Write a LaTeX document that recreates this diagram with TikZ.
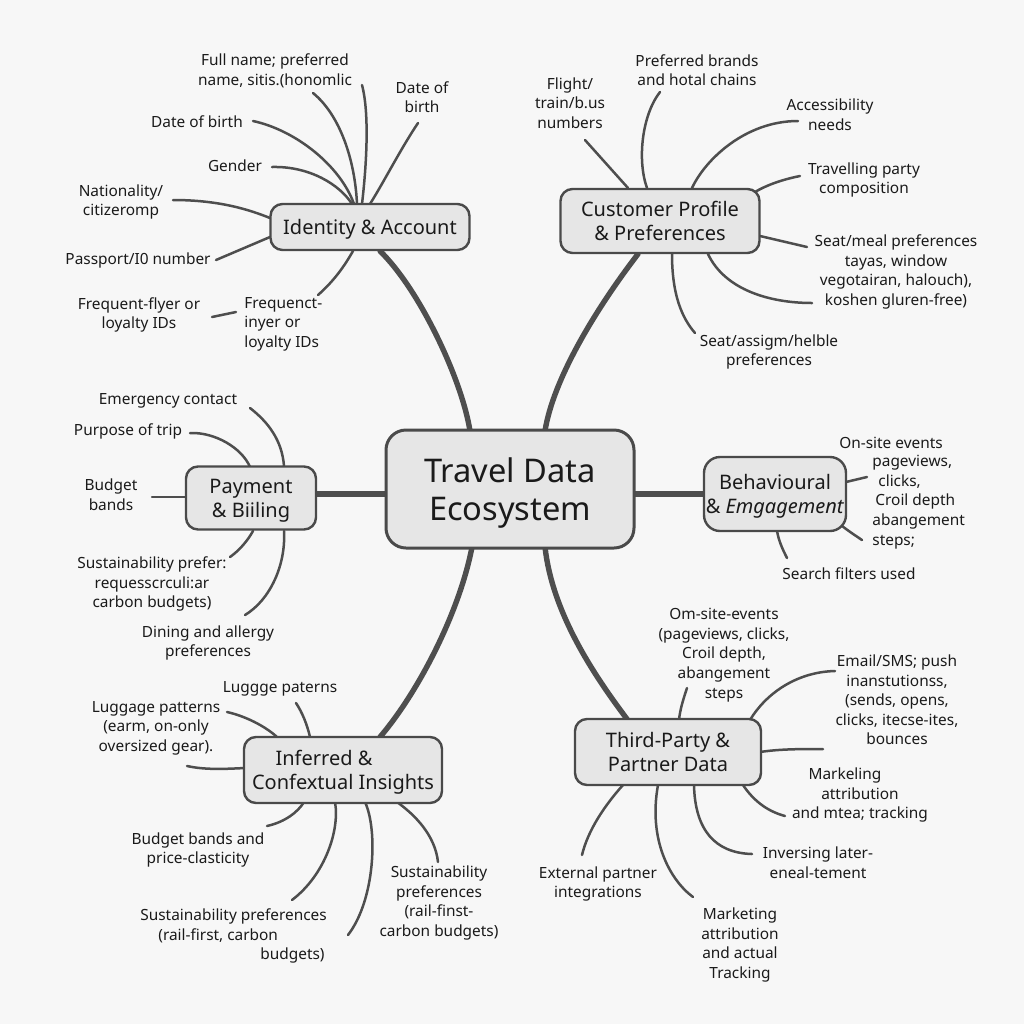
\documentclass[tikz,border=0pt]{standalone}
\usepackage{fontspec}
\setmainfont{Noto Sans}
\definecolor{bg}{HTML}{F7F7F7}
\definecolor{txt}{HTML}{1A1A1A}
\definecolor{conn}{HTML}{4E4E4E}
\definecolor{hubfill}{HTML}{E6E6E6}
\definecolor{hubdraw}{HTML}{4A4A4A}
\tikzset{
 lbl/.style={font=\fontsize{7.7}{9.8}\selectfont, text=txt, align=center, inner sep=0pt},
 hub/.style={draw=hubdraw, line width=1.2pt, fill=hubfill, rounded corners=6pt, text=txt, font=\fontsize{10}{12}\selectfont, align=center, inner sep=0pt, text depth=0pt},
 mainlink/.style={draw=conn, line width=2.7pt, line cap=round},
 leaf/.style={draw=conn, line width=1.25pt, line cap=round},
}
\begin{document}
\begin{tikzpicture}[x=0.5pt,y=-0.5pt]
\fill[bg] (0,0) rectangle (1024,1024);
\useasboundingbox (0,0) rectangle (1024,1024);

% ---------- connector end points ----------
% main links
\path (380,251) coordinate (m1a) (470,431) coordinate (m1b)
      (638,254) coordinate (m2a) (545,431) coordinate (m2b)
      (316,494) coordinate (m3a) (386,494) coordinate (m3b)
      (634,494) coordinate (m4a) (705,494) coordinate (m4b)
      (472,547) coordinate (m5a) (380,737) coordinate (m5b)
      (545,547) coordinate (m6a) (627,719) coordinate (m6b);
% identity
\path (313,93) coordinate (ia1) (357,204) coordinate (ib1)
      (362,85) coordinate (ia2) (362,204) coordinate (ib2)
      (418,123) coordinate (ia3) (370,204) coordinate (ib3)
      (253,121) coordinate (ia4) (354,204) coordinate (ib4)
      (272,167) coordinate (ia5) (352,204) coordinate (ib5)
      (173,200) coordinate (ia6) (270,218) coordinate (ib6)
      (216,260) coordinate (ia7) (270,237) coordinate (ib7)
      (212,317) coordinate (ia8) (236,312) coordinate (ib8)
      (318,295) coordinate (ia9) (353,251) coordinate (ib9);
% customer
\path (585,140) coordinate (ca1) (628,188) coordinate (cb1)
      (660,92) coordinate (ca2) (647,188) coordinate (cb2)
      (798,121) coordinate (ca3) (692,188) coordinate (cb3)
      (800,176) coordinate (ca4) (755,192) coordinate (cb4)
      (807,247) coordinate (ca5) (760,236) coordinate (cb5)
      (812,303) coordinate (ca6) (708,254) coordinate (cb6)
      (695,333) coordinate (ca7) (672,254) coordinate (cb7);
% payment
\path (250,408) coordinate (pa1) (284,466) coordinate (pb1)
      (190,433) coordinate (pa2) (250,467) coordinate (pb2)
      (152,497) coordinate (pa3) (186,497) coordinate (pb3)
      (230,557) coordinate (pa4) (253,531) coordinate (pb4)
      (245,615) coordinate (pa5) (284,531) coordinate (pb5);
% behavioural
\path (867,477) coordinate (ba1) (846,482) coordinate (bb1)
      (862,540) coordinate (ba2) (842,526) coordinate (bb2)
      (787,558) coordinate (ba3) (777,531) coordinate (bb3);
% inferred
\path (296,703) coordinate (na1) (310,737) coordinate (nb1)
      (227,712) coordinate (na2) (277,737) coordinate (nb2)
      (187,766) coordinate (na3) (245,768) coordinate (nb3)
      (267,826) coordinate (na4) (304,802) coordinate (nb4)
      (292,900) coordinate (na5) (335,802) coordinate (nb5)
      (348,935) coordinate (na6) (365,802) coordinate (nb6)
      (438,862) coordinate (na7) (397,802) coordinate (nb7);
% third party
\path (687,688) coordinate (ta1) (679,720) coordinate (tb1)
      (835,671) coordinate (ta2) (750,720) coordinate (tb2)
      (823,749) coordinate (ta3) (760,752) coordinate (tb3)
      (785,816) coordinate (ta4) (743,785) coordinate (tb4)
      (752,854) coordinate (ta5) (694,785) coordinate (tb5)
      (693,897) coordinate (ta6) (658,785) coordinate (tb6)
      (582,855) coordinate (ta7) (623,785) coordinate (tb7);

% ---------- main links ----------
\draw[mainlink] (m1a) .. controls (420,290) and (462,380) .. (m1b);
\draw[mainlink] (m2a) .. controls (595,310) and (553,380) .. (m2b);
\draw[mainlink] (m3a) -- (m3b);
\draw[mainlink] (m4a) -- (m4b);
\draw[mainlink] (m5a) .. controls (460,610) and (420,690) .. (m5b);
\draw[mainlink] (m6a) .. controls (552,610) and (590,670) .. (m6b);

% ---------- leaf links ----------
\draw[leaf] (ia1) .. controls (340,115) and (355,160) .. (ib1);
\draw[leaf] (ia2) .. controls (370,115) and (366,170) .. (ib2);
\draw[leaf] (ia3) .. controls (400,150) and (385,180) .. (ib3);
\draw[leaf] (ia4) .. controls (295,130) and (340,165) .. (ib4);
\draw[leaf] (ia5) .. controls (310,166) and (340,185) .. (ib5);
\draw[leaf] (ia6) .. controls (220,200) and (250,210) .. (ib6);
\draw[leaf] (ia7) -- (ib7);
\draw[leaf] (ia8) -- (ib8);
\draw[leaf] (ia9) .. controls (335,280) and (345,265) .. (ib9);

\draw[leaf] (ca1) -- (cb1);
\draw[leaf] (ca2) .. controls (642,115) and (637,160) .. (cb2);
\draw[leaf] (ca3) .. controls (745,121) and (705,160) .. (cb3);
\draw[leaf] (ca4) .. controls (780,180) and (765,186) .. (cb4);
\draw[leaf] (ca5) -- (cb5);
\draw[leaf] (ca6) .. controls (770,303) and (725,290) .. (cb6);
\draw[leaf] (ca7) .. controls (682,318) and (672,295) .. (cb7);

\draw[leaf] (pa1) .. controls (268,422) and (282,440) .. (pb1);
\draw[leaf] (pa2) .. controls (215,432) and (242,448) .. (pb2);
\draw[leaf] (pa3) -- (pb3);
\draw[leaf] (pa4) .. controls (240,550) and (248,540) .. (pb4);
\draw[leaf] (pa5) .. controls (270,600) and (286,565) .. (pb5);

\draw[leaf] (ba1) -- (bb1);
\draw[leaf] (ba2) .. controls (856,536) and (850,532) .. (bb2);
\draw[leaf] (ba3) .. controls (783,550) and (779,542) .. (bb3);

\draw[leaf] (na1) .. controls (302,712) and (307,724) .. (nb1);
\draw[leaf] (na2) .. controls (245,716) and (265,726) .. (nb2);
\draw[leaf] (na3) .. controls (205,770) and (225,769) .. (nb3);
\draw[leaf] (na4) .. controls (285,822) and (298,812) .. (nb4);
\draw[leaf] (na5) .. controls (325,875) and (340,830) .. (nb5);
\draw[leaf] (na6) .. controls (375,900) and (378,830) .. (nb6);
\draw[leaf] (na7) .. controls (435,835) and (415,815) .. (nb7);

\draw[leaf] (ta1) .. controls (683,700) and (680,710) .. (tb1);
\draw[leaf] (ta2) .. controls (795,672) and (765,695) .. (tb2);
\draw[leaf] (ta3) .. controls (800,749) and (780,749) .. (tb3);
\draw[leaf] (ta4) .. controls (770,812) and (755,803) .. (tb4);
\draw[leaf] (ta5) .. controls (715,853) and (695,830) .. (tb5);
\draw[leaf] (ta6) .. controls (670,880) and (648,840) .. (tb6);
\draw[leaf] (ta7) .. controls (588,830) and (605,805) .. (tb7);

% ---------- hubs ----------
\node[hub, minimum width=124pt, minimum height=59pt, rounded corners=10pt, line width=1.5pt, font=\fontsize{16.3}{19}\selectfont] (eco) at (510,489) {Travel Data\\Ecosystem};
\node[hub, minimum width=99.5pt, minimum height=23pt] (ida) at (370,227) {Identity \& Account};
\node[hub, minimum width=99.5pt, minimum height=32pt] (cpp) at (660,221) {Customer Profile\\\& Preferences};
\node[hub, minimum width=65pt, minimum height=31.5pt] (pay) at (251,498) {Payment\\\& Biiling};
\node[hub, minimum width=71pt, minimum height=37pt, rounded corners=8pt] (beh) at (775,494) {Behavioural\\\& \textit{Emgagement}};
\node[hub, minimum width=99pt, minimum height=33pt] (inf) at (343,770) {Inferred \&\hspace*{19pt}\\Confextual Insights};
\node[hub, minimum width=93pt, minimum height=33pt] (tpp) at (668,752) {Third-Party \&\\Partner Data};

% ---------- labels ----------
\node[lbl] (ida1) at (275,71) {Full name; preferred\\name, sitis.(honomlic};
\node[lbl] (ida2) at (422,97) {Date of\\birth};
\node[lbl] (ida3) at (197,122) {Date of birth};
\node[lbl] (ida4) at (235,166) {Gender};
\node[lbl] (ida5) at (121,202) {Nationality/\\citizeromp};
\node[lbl] (ida6) at (138,260) {Passport/I0 number};
\node[lbl] (ida7) at (139,315) {Frequent-flyer or\\loyalty IDs};
\node[lbl, align=left, anchor=west] (ida8) at (244,324) {Frequenct-\\inyer or\\loyalty IDs};

\node[lbl] (cpp1) at (570,103) {Flight/\\train/b.us\\numbers};
\node[lbl] (cpp2) at (697,70) {Preferred brands\\and hotal chains};
\node[lbl] (cpp3) at (830,115) {Accessibility\\needs};
\node[lbl] (cpp4) at (864,180) {Travelling party\\composition};
\node[lbl] (cpp5) at (896,272) {Seat/meal preferences\\tayas, window\\vegotairan, halouch),\\koshen gluren-free)};
\node[lbl] (cpp6) at (769,352) {Seat/assigm/helble\\preferences};

\node[lbl] (pay1) at (168,401) {Emergency contact};
\node[lbl] (pay2) at (128,431) {Purpose of trip};
\node[lbl] (pay3) at (111,495) {Budget\\bands};
\node[lbl] (pay4) at (152,584) {Sustainability prefer:\\requesscrculi:ar\\carbon budgets)};
\node[lbl] (pay5) at (208,643) {Dining and allergy\\preferences};

\node[lbl] (beh1) at (891,443) {On-site events};
\node[lbl, align=left, anchor=west] (beh2) at (872,502) {pageviews,\\\hspace*{3pt}clicks,\\\hspace*{1.5pt}Croil depth\\abangement\\steps;};
\node[lbl] (beh3) at (849,574) {Search filters used};

\node[lbl] (inf1) at (280,689) {Luggge paterns};
\node[lbl] (inf2) at (156,728) {Luggage patterns\\(earm, on-only\\oversized gear).};
\node[lbl] (inf3) at (198,850) {Budget bands and\\price-clasticity};
\node[lbl, align=left, anchor=west] (inf4) at (140,936) {Sustainability preferences\\\hspace*{9pt}(rail-first, carbon\\\hspace*{60pt}budgets)};
\node[lbl] (inf5) at (439,903) {Sustainability\\preferences\\(rail-finst-\\carbon budgets)};

\node[lbl] (tpp1) at (724,655) {Om-site-events\\(pageviews, clicks,\\Croil depth,\\abangement\\steps};
\node[lbl] (tpp2) at (897,700) {Email/SMS; push\\inanstutionss,\\(sends, opens,\\clicks, itecse-ites,\\bounces};
\node[lbl] (tpp3) at (860,795) {Markeling\hspace*{15pt}\\attribution\hspace*{15pt}\\and mtea; tracking};
\node[lbl] (tpp4) at (818,863) {Inversing later-\\eneal-tement};
\node[lbl] (tpp5) at (740,945) {Marketing\\attribution\\and actual\\Tracking};
\node[lbl] (tpp6) at (598,884) {External partner\\integrations};
\end{tikzpicture}
\end{document}
